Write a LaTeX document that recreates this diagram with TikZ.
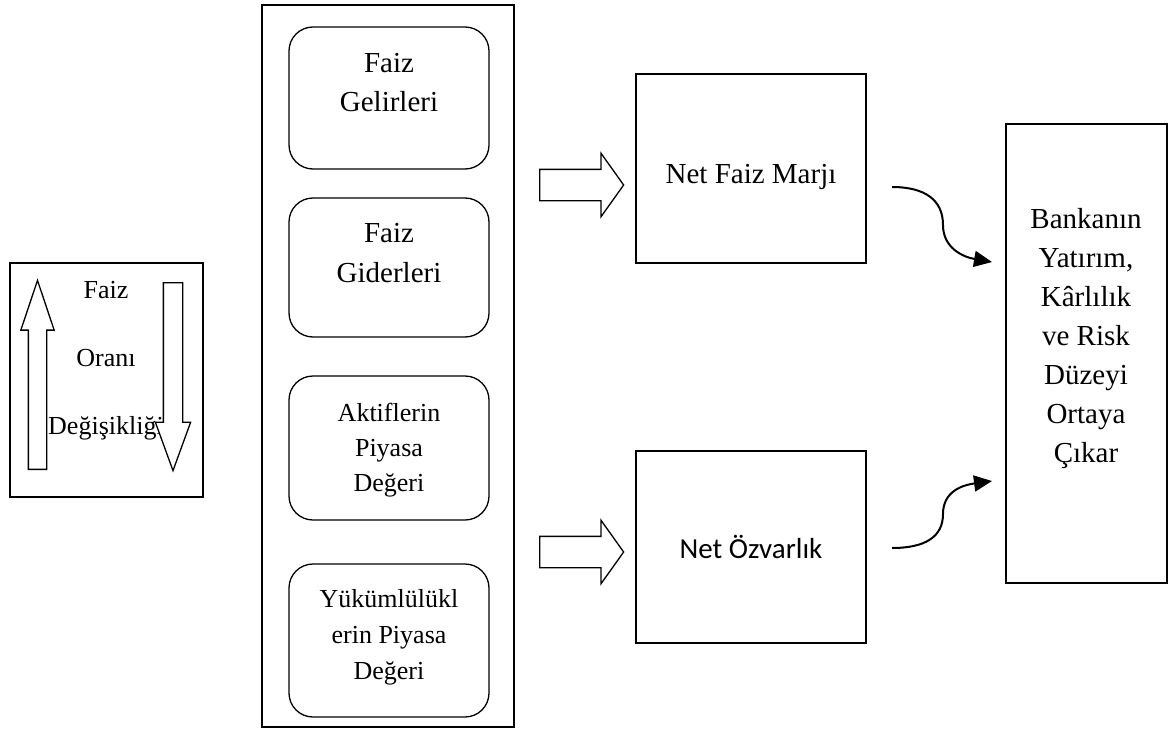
\documentclass[tikz,border=0pt]{standalone}
\usepackage{fontspec}
\setmainfont{Liberation Serif}
\newfontfamily\calibri{Carlito}
\usetikzlibrary{shapes.arrows,arrows.meta}

\begin{document}
\begin{tikzpicture}[x=1pt,y=-1pt,
  kutu/.style={draw,line width=1.3pt,inner sep=0pt},
  yuvarlak/.style={kutu,rounded corners=24pt,minimum width=200pt},
  yazi/.style={align=center,inner sep=0pt,anchor=north},
  blok/.style={single arrow,draw,fill=white,line width=1.3pt,inner xsep=0pt,inner ysep=15pt,
    single arrow head extend=16pt,single arrow tip angle=109,minimum height=84pt,anchor=tail},
  ok/.style={single arrow,draw,fill=white,line width=1.3pt,inner ysep=0pt,anchor=tail},
  egri/.style={line width=2pt,-{Triangle[length=18pt,width=16pt]}}]
\useasboundingbox (0,0) rectangle (1171,736);

% faiz orani kutusu
\node[kutu,minimum width=193pt,minimum height=234pt] (oran) at (106.5,380) {};
\node[anchor=base,inner sep=0pt,font=\fontsize{26}{30}\selectfont] (oran1) at (106,298) {Faiz};
\node[anchor=base,inner sep=0pt,font=\fontsize{26}{30}\selectfont] (oran2) at (106,366) {Oranı};
\node[anchor=base,inner sep=0pt,font=\fontsize{26}{30}\selectfont] (oran3) at (106,434) {Değişikliği};
\node[ok,shape border rotate=90,inner xsep=8.5pt,single arrow head extend=7.5pt,
  single arrow tip angle=37,minimum height=189pt] (yukari) at (37.5,470) {};
\node[ok,shape border rotate=270,inner xsep=9pt,single arrow head extend=8pt,
  single arrow tip angle=40,minimum height=188pt] (asagi) at (173,282) {};

% orta sutun
\node[kutu,minimum width=252pt,minimum height=722pt] (sutun) at (388,366) {};
\node[yuvarlak,minimum height=142pt] (gelir) at (389,98) {};
\node[yuvarlak,minimum height=139pt] (gider) at (389,267.5) {};
\node[yuvarlak,minimum height=144pt] (aktif) at (389,448) {};
\node[yuvarlak,minimum height=153pt] (pasif) at (389,640.5) {};
\node[yazi,font=\fontsize{29}{39}\selectfont] (gelirt) at (389,53) {Faiz\\Gelirleri};
\node[yazi,font=\fontsize{29}{40}\selectfont] (gidert) at (389,223) {Faiz\\Giderleri};
\node[yazi,font=\fontsize{26}{35}\selectfont] (aktift) at (389,403) {Aktiflerin\\Piyasa\\Değeri};
\node[yazi,font=\fontsize{26}{36}\selectfont] (pasift) at (389,589) {Yükümlülükl\\erin Piyasa\\Değeri};

% sonuc kutulari
\node[kutu,minimum width=230pt,minimum height=189pt] (marj) at (751,168.5) {};
\node[anchor=base,inner sep=0pt,font=\fontsize{29}{35}\selectfont] (marjt) at (751,183) {Net Faiz Marjı};
\node[kutu,minimum width=230pt,minimum height=192pt] (ozv) at (751,547) {};
\node[anchor=base,inner sep=0pt,font=\calibri\fontsize{29}{35}\selectfont] (ozvt) at (751,558) {Net Özvarlık};

\node[blok] (ok1) at (539,185) {};
\node[blok] (ok2) at (539,552) {};

% banka kutusu
\node[kutu,minimum width=161pt,minimum height=459pt] (banka) at (1086.5,353.5) {};
\node[yazi,font=\fontsize{29}{39}\selectfont] (bankat) at (1086,208) {Bankanın\\Yatırım,\\Kârlılık\\ve Risk\\Düzeyi\\Ortaya\\Çıkar};

\coordinate (u1) at (892,187);
\coordinate (u2) at (992,262);
\coordinate (a1) at (892,548);
\coordinate (a2) at (992,481);
\draw[egri] (u1) .. controls (925,187) and (943,200) .. (943,225) .. controls (943,248) and (963,257) .. (u2);
\draw[egri] (a1) .. controls (925,548) and (943,537) .. (943,514) .. controls (943,491) and (963,485) .. (a2);
\end{tikzpicture}
\end{document}
